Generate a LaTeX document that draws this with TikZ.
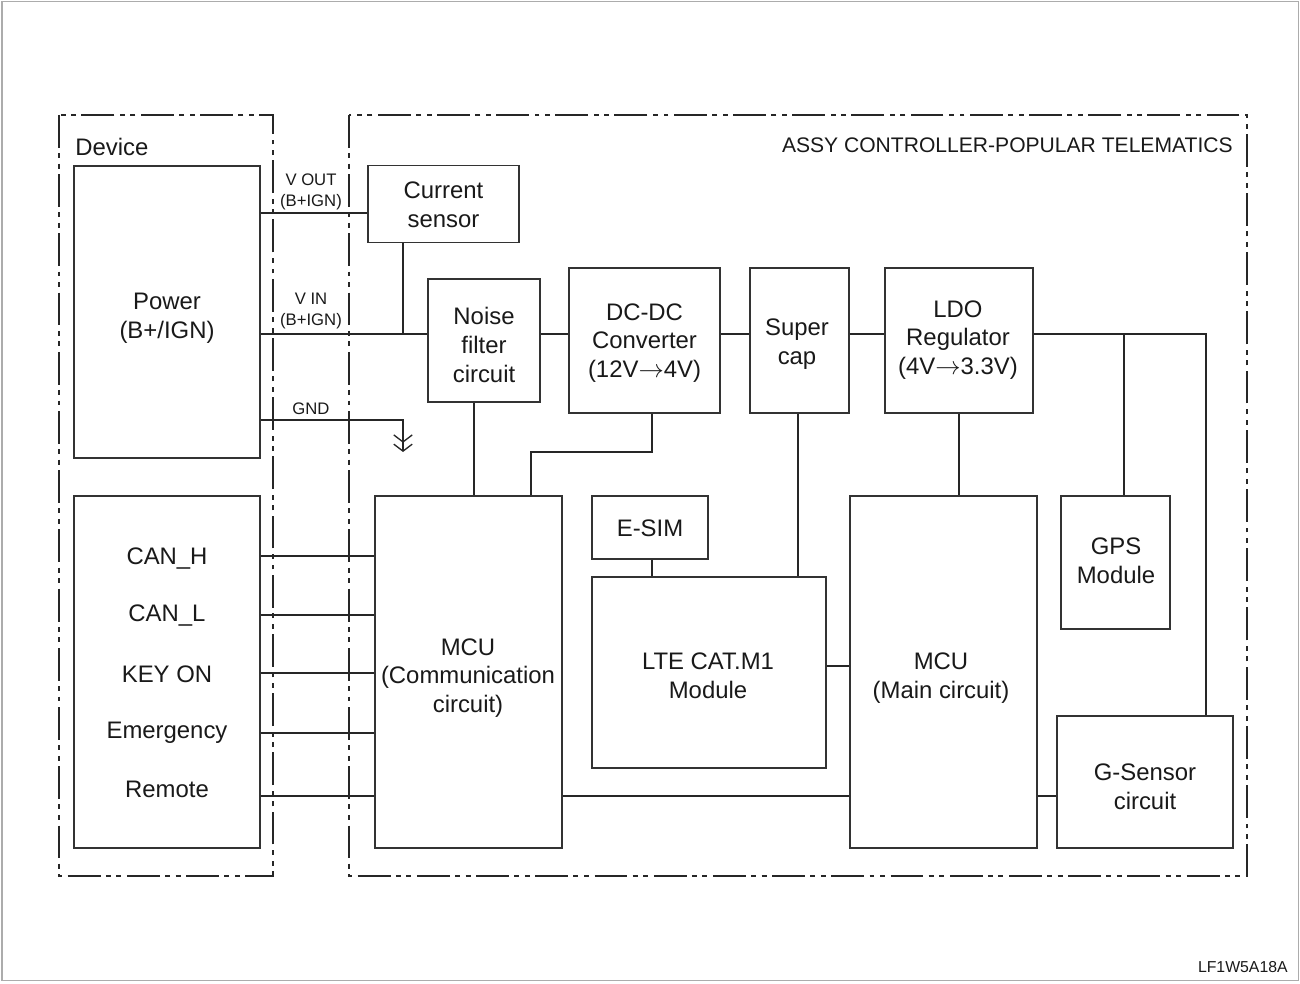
\documentclass[tikz,border=0pt]{standalone}
\usepackage{fontspec}
\setmainfont{Liberation Sans}
\usetikzlibrary{arrows.meta}

\begin{document}
\begin{tikzpicture}[x=0.02cm, y=-0.02cm,
		wire/.style={line width=0.75pt, draw=black!85},
		blk/.style={shape=rectangle, draw=black!80, line width=0.75pt, inner sep=0pt},
		txt/.style={anchor=center, align=center, inner sep=0pt, text=black!90, font=\fontsize{13.6}{16.4}\selectfont},
		sml/.style={anchor=center, align=center, inner sep=0pt, text=black!90, font=\fontsize{9.5}{12}\selectfont},
		frame/.style={line width=0.75pt, draw=black!85, dash pattern=on 18.7pt off 3pt on 2.8pt off 3.2pt on 2.8pt off 3.2pt},
		gnd/.style={wire, -{Straight Barb[width=10.5pt, length=4pt, sep=0.4pt] Straight Barb[width=10.5pt, length=4pt]}}]
		% Frames, blocks and wires:
		\useasboundingbox (0,0) rectangle (1300,983);
		\draw[line width=1.1pt, gray!65] (2,1.5) rectangle (1298.5,980.5);
		\draw[frame] (59,115) rectangle (273,876);
		\draw[frame] (349,115) rectangle (1247,876);
		\node[txt, anchor=west](DevT) at (75,147){Device};
		\node[txt, anchor=east, font=\fontsize{12}{14}\selectfont](AssyT) at (1233,145){ASSY CONTROLLER-POPULAR TELEMATICS};
		\node[blk, minimum width=3.72cm, minimum height=5.84cm](Pwr) at (167,312){} node[txt](PwrT) at (167,318){Power\\(B+/IGN)};
		\node[blk, minimum width=3.72cm, minimum height=7.04cm](Sig) at (167,672){};
		\node[txt](CanH) at (167,559){CAN\_H};
		\node[txt](CanL) at (167,616){CAN\_L};
		\node[txt](KeyOn) at (167,674){KEY ON};
		\node[txt](Emg) at (167,733){Emergency};
		\node[txt](Rmt) at (167,789){Remote};
		\node[blk, minimum width=3.02cm, minimum height=1.54cm](CurS) at (443.5,204){} node[txt](CurST) at (443.5,205){Current\\sensor};
		\node[blk, minimum width=2.24cm, minimum height=2.46cm](Noise) at (484,340.5){} node[txt](NoiseT) at (484,345){Noise\\filter\\circuit};
		\node[blk, minimum width=3.02cm, minimum height=2.90cm](DCDC) at (644.5,340.5){} node[txt](DCDCT) at (644.5,343){DC-DC\\Converter\\(12V$\rightarrow$4V)};
		\node[blk, minimum width=1.98cm, minimum height=2.90cm](SCap) at (799.5,340.5){} node[txt](SCapT) at (797,344){Super\\cap};
		\node[blk, minimum width=2.96cm, minimum height=2.90cm](LDO) at (959,340.5){} node[txt](LDOT) at (958,340){LDO\\Regulator\\(4V$\rightarrow$3.3V)};
		\node[blk, minimum width=3.74cm, minimum height=7.04cm](McuC) at (468.5,672){} node[txt](McuCT) at (468,678){MCU\\(Communication\\circuit)};
		\node[blk, minimum width=2.32cm, minimum height=1.26cm](ESim) at (650,527.5){} node[txt](ESimT) at (650,528){E-SIM};
		\node[blk, minimum width=4.68cm, minimum height=3.82cm](LTE) at (709,672.5){} node[txt](LTET) at (708,676){LTE CAT.M1\\Module};
		\node[blk, minimum width=3.74cm, minimum height=7.04cm](McuM) at (943.5,672){} node[txt](McuMT) at (941,678){MCU\\(Main circuit)};
		\node[blk, minimum width=2.18cm, minimum height=2.66cm](GPS) at (1115.5,562.5){} node[txt](GPST) at (1116,561){GPS\\Module};
		\node[blk, minimum width=3.52cm, minimum height=2.64cm](GSen) at (1145,782){} node[txt](GSenT) at (1145,787){G-Sensor\\circuit};
		\node[sml](VoutT) at (311,191.5){V OUT\\(B+IGN)};
		\node[sml](VinT) at (311,311){V IN\\(B+IGN)};
		\node[sml](GndT) at (311,409){GND};
		\node[sml, anchor=east, font=\fontsize{9}{11}\selectfont](CodeT) at (1288,967){LF1W5A18A};
		\coordinate (Vin) at (403,334);
		\coordinate (Gnd) at (403,452);
		\coordinate (Vbus) at (1206,334);
		\draw[wire] (Pwr.east |- 0,213) -- (CurS.west |- 0,213);
		\draw[wire] (Pwr.east |- Vin) -- (Noise.west |- Vin);
		\draw[wire] (CurS.south -| Vin) -- (Vin);
		\draw[gnd] (Pwr.east |- 0,420) -| (Gnd);
		\draw[wire] (Noise.east |- Vin) -- (DCDC.west |- Vin);
		\draw[wire] (DCDC.east |- Vin) -- (SCap.west |- Vin);
		\draw[wire] (SCap.east |- Vin) -- (LDO.west |- Vin);
		\draw[wire] (LDO.east |- Vin) -- (Vbus) -- (GSen.north -| Vbus);
		\draw[wire] (1124,334) -- (GPS.north -| 1124,0);
		\draw[wire] (Noise.south -| 474,0) -- (McuC.north -| 474,0);
		\draw[wire] (DCDC.south -| 652,0) |- (531,452) -- (McuC.north -| 531,0);
		\draw[wire] (LDO.south -| 959,0) -- (McuM.north -| 959,0);
		\draw[wire] (SCap.south -| 798,0) -- (LTE.north -| 798,0);
		\draw[wire] (ESim.south -| 652,0) -- (LTE.north -| 652,0);
		\draw[wire] (LTE.east |- 0,666) -- (McuM.west |- 0,666);
		\draw[wire] (McuC.east |- 0,796) -- (McuM.west |- 0,796);
		\draw[wire] (McuM.east |- 0,796) -- (GSen.west |- 0,796);
		\foreach \y in {556,615,673,733,796}
			\draw[wire] (Sig.east |- 0,\y) -- (McuC.west |- 0,\y);
	\end{tikzpicture}
\end{document}
